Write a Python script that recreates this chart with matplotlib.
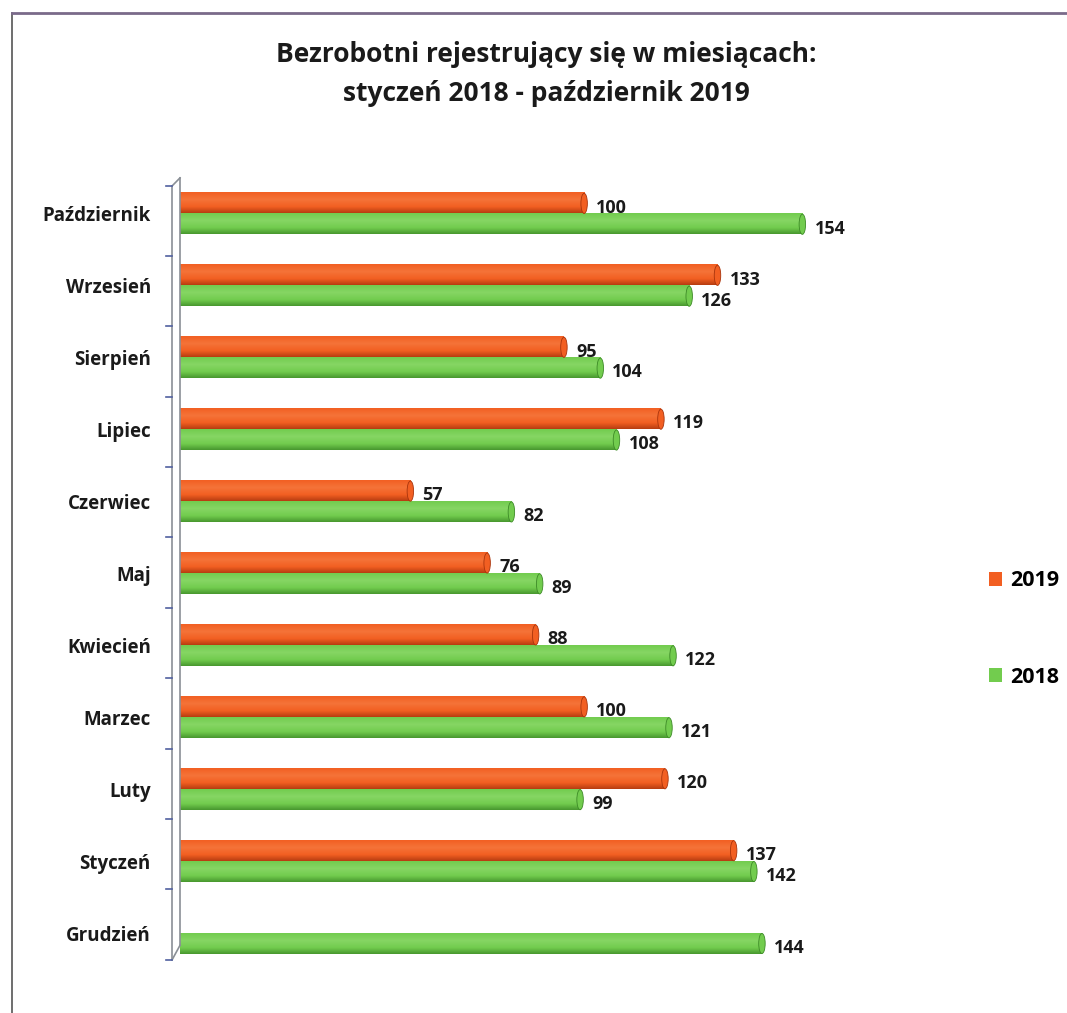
import matplotlib
matplotlib.use('Agg')
import matplotlib.pyplot as plt
from matplotlib.lines import Line2D
from matplotlib.patches import Patch, Ellipse
import numpy as np

plt.rcParams['font.family'] = ['Open Sans', 'DejaVu Sans']

# dane (od dołu do góry)
months = ['Grudzień', 'Styczeń', 'Luty', 'Marzec', 'Kwiecień', 'Maj',
          'Czerwiec', 'Lipiec', 'Sierpień', 'Wrzesień', 'Październik']
vals_2019 = [None, 137, 120, 100, 88, 76, 57, 119, 95, 133, 100]
vals_2018 = [144, 142, 99, 121, 122, 89, 82, 108, 104, 126, 154]

c2019 = '#F25F22'
c2018 = '#72CC4E'

fig = plt.figure(figsize=(10.67, 10.13), dpi=100)
ax = fig.add_axes([0.1687, 0.0434, 0.606, 0.781])

y = np.arange(len(months))
h = 0.28
off = 0.145


def cylinder(ax, yc, v, base, dark, light):
    # pasek z gradientem imitującym walec
    n = 64
    t = np.linspace(0, 1, n)
    rgb = np.array(matplotlib.colors.to_rgb(base))
    drk = np.array(matplotlib.colors.to_rgb(dark))
    lgt = np.array(matplotlib.colors.to_rgb(light))
    img = np.zeros((n, 1, 3))
    for i in range(n):
        if t[i] < 0.3:
            img[i, 0] = rgb + (drk - rgb) * (1 - t[i] / 0.3) * 0.8
        elif t[i] < 0.65:
            img[i, 0] = rgb + (lgt - rgb) * 0.5 * (t[i] - 0.3) / 0.35
        else:
            img[i, 0] = rgb + (lgt - rgb) * 0.5 * (1 - (t[i] - 0.65) / 0.35)
    ax.imshow(img, extent=[0, v, yc - h / 2, yc + h / 2], aspect='auto',
              origin='lower', zorder=2, interpolation='bilinear')
    ax.add_patch(Ellipse((v, yc), 1.6, h, facecolor=base, edgecolor=dark,
                         linewidth=0.6, zorder=3))


for i, m in enumerate(months):
    if vals_2019[i] is not None:
        cylinder(ax, y[i] + off, vals_2019[i], c2019, '#A8340C', '#F7884F')
        ax.text(vals_2019[i] + 3, y[i] + off - 0.06, str(vals_2019[i]),
                fontsize=13, fontweight='bold', color='#1a1a1a', va='center', ha='left')
    cylinder(ax, y[i] - off, vals_2018[i], c2018, '#3D8A27', '#9ADF7A')
    ax.text(vals_2018[i] + 3, y[i] - off - 0.06, str(vals_2018[i]),
            fontsize=13, fontweight='bold', color='#1a1a1a', va='center', ha='left')

ax.set_xlim(0, 160)
ax.set_ylim(-0.5, len(months) - 0.5)
ax.set_yticks(y)
ax.set_yticklabels(months, fontsize=13.5, fontweight='bold', color='#1a1a1a')
ax.tick_params(axis='y', length=0, pad=21)
ax.set_xticks([])
for s in ax.spines.values():
    s.set_visible(False)

# "ściana" 3D osi
wall = '#8a8f96'
ax.plot([-0.012, -0.012], [0.012, 0.99], transform=ax.transAxes, color=wall, lw=1.2, clip_on=False)
ax.plot([0.0, 0.0], [0.03, 1.0], transform=ax.transAxes, color=wall, lw=1.2, clip_on=False)
ax.plot([-0.012, 0.0], [0.99, 1.0], transform=ax.transAxes, color=wall, lw=1.2, clip_on=False)
ax.plot([-0.012, 0.0], [0.012, 0.03], transform=ax.transAxes, color=wall, lw=1.2, clip_on=False)
for k in range(len(months) + 1):
    yy = 0.012 + k * (0.99 - 0.012) / len(months)
    ax.plot([-0.022, -0.012], [yy, yy], transform=ax.transAxes, color='#5060a0', lw=1.2, clip_on=False)

fig.suptitle('Bezrobotni rejestrujący się w miesiącach:\nstyczeń 2018 - październik 2019',
             fontsize=19, fontweight='bold', color='#1a1a1a', x=0.512, y=0.96, linespacing=1.6)

handles = [Patch(facecolor=c2019, edgecolor='none'), Patch(facecolor=c2018, edgecolor='none')]
fig.legend(handles, ['2019', '2018'], loc='center', bbox_to_anchor=(0.96, 0.379),
           frameon=False, prop={'size': 15.5, 'weight': 'bold'},
           handlelength=0.6, handleheight=0.6, handletextpad=0.4, labelspacing=3.5)

# ramka
fig.add_artist(Line2D([0.011, 0.011], [0.0, 0.987], color='#555555', lw=1.2))
fig.add_artist(Line2D([0.011, 1.0], [0.987, 0.987], color='#7a6a8a', lw=2))

fig.savefig('out.png', dpi=100)
